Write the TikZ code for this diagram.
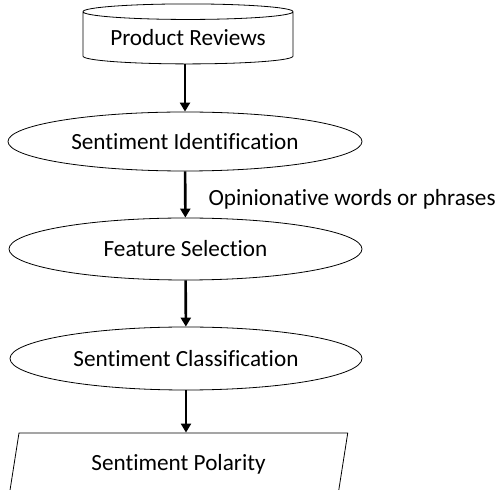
\documentclass[tikz,border=0pt]{standalone}
\usepackage{fontspec}
\setmainfont[Ligatures=NoCommon]{Carlito}
\usetikzlibrary{shapes.geometric, arrows.meta, positioning}
\tikzset{>={Triangle[length=9pt, width=10pt]}}
\tikzset{
  stage/.style={ellipse, draw, line width=0.8pt, inner sep=0pt},
  flow/.style={->, line width=2.6pt}
}

\begin{document}
\begin{tikzpicture}[x=1pt, y=1pt, font=\fontsize{23.2}{27}\selectfont]
\useasboundingbox (0,0) rectangle (501,490);
\node [cylinder, draw, line width=0.8pt, shape border rotate=90, aspect=0.1,
  minimum width=210pt, minimum height=60pt, inner sep=0pt] (reviews) at (188,452) {Product Reviews};
\node [stage, minimum width=354pt, minimum height=59pt] (ident) at (185,348.5) {Sentiment Identification};
\node [stage, minimum width=353pt, minimum height=62pt] (feat) at (185.5,241) {Feature Selection};
\node [stage, minimum width=352pt, minimum height=63pt] (classif) at (186,131.5) {Sentiment Classification};
\node [trapezium, draw, line width=0.8pt, trapezium left angle=75, trapezium right angle=105,
  trapezium stretches=true, minimum width=339pt, minimum height=62pt, inner sep=0pt] (polarity) at (178.5,26) {Sentiment Polarity};
\draw [flow] (reviews.south -| ident.north) -- (ident.north);
\draw [flow] (ident) -- (feat) node [pos=0.6, anchor=west, xshift=22pt, inner sep=0pt] {Opinionative words or phrases};
\draw [flow] (feat) -- (classif);
\draw [flow] (classif.south) -- (classif.south |- polarity.north);
\end{tikzpicture}
\end{document}
